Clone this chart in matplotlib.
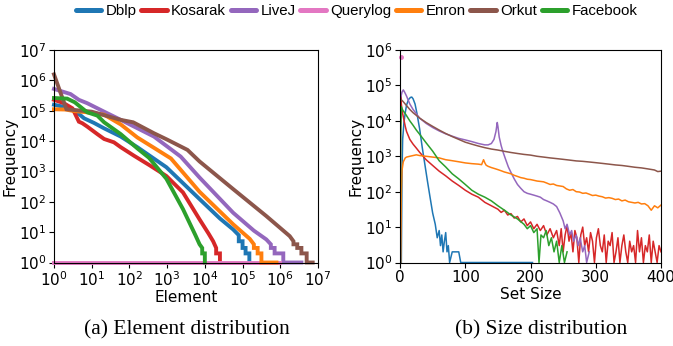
import numpy as np
import matplotlib
matplotlib.use("Agg")
import matplotlib.pyplot as plt
from matplotlib.ticker import LogLocator, NullLocator, FixedLocator

names = ["Dblp", "Kosarak", "LiveJ", "Querylog", "Enron", "Orkut", "Facebook"]
colors = ["tab:blue", "tab:red", "tab:purple", "tab:pink", "tab:orange", "tab:brown", "tab:green"]

# (a) element distribution, log10(element rank) vs log10(frequency)
elem_lx = {
    "Dblp": [0, 0.26, 0.53, 0.8, 1.06, 1.33, 1.77, 2.21, 2.98, 3.86, 4.4, 4.75, 4.9, 4.9, 5.0, 5.0, 5.08, 5.08, 5.18, 5.18],
    "Kosarak": [0, 0.26, 0.49, 0.66, 0.75, 0.88, 1.15, 1.33, 1.59, 1.77, 2.12, 2.54, 2.98, 3.42, 3.86, 4.1, 4.22, 4.3, 4.3, 4.4, 4.4],
    "LiveJ": [0, 0.44, 0.66, 0.88, 1.33, 1.77, 2.65, 3.36, 3.86, 4.75, 5.3, 5.63, 5.75, 5.75, 5.85, 5.85, 5.95, 5.95, 6.08, 6.08, 6.56],
    "Querylog": [0, 6.0],
    "Enron": [0, 0.31, 0.53, 0.88, 1.33, 1.77, 2.21, 2.65, 3.1, 3.86, 4.75, 5.19, 5.3, 5.3, 5.4, 5.4, 5.5, 5.5, 5.9],
    "Orkut": [0, 0.33, 1.0, 1.77, 2.1, 2.65, 3.0, 3.54, 3.86, 4.75, 5.63, 6.25, 6.35, 6.35, 6.45, 6.45, 6.56, 6.56, 6.7, 6.7, 6.86],
    "Facebook": [0, 0.35, 0.55, 0.88, 1.15, 1.33, 1.77, 2.21, 2.52, 2.98, 3.42, 3.75, 3.86, 3.93, 3.93, 4.0, 4.0],
}
elem_ly = {
    "Dblp": [5.2, 5.13, 5.03, 4.75, 4.6, 4.42, 4.15, 3.8, 3.14, 2.09, 1.45, 1.09, 0.9, 0.7, 0.7, 0.48, 0.48, 0.3, 0.3, 0],
    "Kosarak": [5.36, 5.25, 5.08, 4.64, 4.59, 4.48, 4.23, 4.07, 3.96, 3.8, 3.52, 3.2, 2.85, 2.31, 1.42, 0.95, 0.7, 0.48, 0.3, 0.3, 0],
    "LiveJ": [5.72, 5.55, 5.36, 5.25, 4.97, 4.7, 4.15, 3.49, 2.8, 1.64, 1.05, 0.76, 0.6, 0.48, 0.48, 0.3, 0.3, 0.3, 0.3, 0, 0],
    "Querylog": [0, 0],
    "Enron": [5.05, 5.04, 4.99, 4.95, 4.87, 4.55, 4.12, 3.78, 3.43, 2.33, 1.26, 0.78, 0.6, 0.48, 0.48, 0.3, 0.3, 0, 0],
    "Orkut": [6.2, 5.05, 4.97, 4.7, 4.62, 4.26, 4.05, 3.71, 3.33, 2.42, 1.53, 0.87, 0.7, 0.6, 0.6, 0.48, 0.48, 0.3, 0.3, 0, 0],
    "Facebook": [5.42, 5.4, 5.28, 4.95, 4.84, 4.62, 4.23, 3.76, 3.45, 2.76, 1.76, 0.9, 0.6, 0.48, 0.3, 0.3, 0],
}

# (b) set size distribution
size_x = {
    "Dblp": [2, 3, 4, 6, 8, 10, 13, 16, 18, 20, 23, 26, 30, 34, 38, 42, 46, 50, 54, 57, 60, 62, 64, 66, 68, 70, 72, 74, 76, 80, 85, 90, 93, 96, 203],
    "Kosarak": [0, 1, 2, 3, 5, 8, 10, 15, 20, 25, 30, 40, 50, 60, 70, 80, 90, 100, 110, 120, 130, 140]
               + list(range(150, 241, 5)) + list(range(244, 401, 3)),
    "LiveJ": [1, 3, 5, 7, 10, 15, 20, 30, 40, 50, 60, 70, 80, 90, 100, 110, 120, 130, 135, 140, 144, 147, 149, 150, 152, 155, 158, 162, 166, 170, 175, 180, 185, 190, 195, 200, 205, 210, 215, 220, 225, 230, 235, 240, 245, 250, 253, 256, 260, 263, 266, 270, 273, 276, 280, 283, 286, 290],
    "Querylog": [1],
    "Enron": [1, 2, 3, 5, 8, 10, 15, 20, 25, 30, 40, 50, 60, 70, 80, 90, 100, 110, 120, 125, 128, 130, 132, 135, 140, 145]
             + list(range(150, 401, 5)),
    "Orkut": [1, 3, 6, 10, 15, 20, 30, 40, 50, 60, 70, 80, 90, 100, 110, 120, 130, 140, 150, 160, 170, 180, 190, 200, 210, 220, 230, 240, 250, 260, 270, 280, 290, 300, 310, 320, 330, 340, 350, 360, 370, 380, 390, 395, 400],
    "Facebook": [0, 1, 2, 3, 5, 8, 10, 15, 20, 25, 30, 40, 50, 60, 70, 80, 90, 100, 110, 120, 130, 140, 150, 160, 170, 180, 190, 195, 200, 205, 210, 213, 216, 220, 224, 228, 232, 236, 240, 244, 248, 252, 256],
}
size_y = {
    "Dblp": [1, 300, 3000, 9000, 17000, 28000, 40000, 46000, 47000, 42000, 30000, 16000, 6000, 1800, 600, 200, 70, 25, 12, 5, 8, 3, 6, 2, 4, 7, 2, 3, 1, 2, 2, 2, 1, 1, 1],
    "Kosarak": [1, 50000, 30000, 20000, 13000, 7000, 5000, 3000, 2200, 1700, 1300, 800, 550, 380, 280, 200, 150, 110, 85, 70, 50, 40,
                32, 26, 30, 22, 24, 18, 20, 14, 17, 11, 14, 9, 12, 8, 11, 6, 9, 5, 8,
                3, 9, 2, 6, 11, 4, 7, 2, 8, 5, 1, 6, 10, 3, 5, 2, 7, 4, 1, 5, 9, 3, 2, 6, 1, 4, 3, 7, 1, 2,
                5, 1, 3, 6, 2, 1, 4, 2, 3, 1, 8, 2, 5, 1, 3, 2, 6, 1, 4, 2, 1, 3, 2],
    "LiveJ": [45000, 65000, 75000, 65000, 50000, 30000, 21000, 12000, 8500, 6500, 5200, 4300, 3700, 3200, 2900, 2600, 2300, 2100, 2100, 2300, 3000, 5000, 9000, 7000, 3500, 2000, 1300, 800, 500, 350, 230, 160, 125, 100, 90, 85, 80, 75, 70, 60, 55, 50, 45, 38, 25, 15, 9, 12, 6, 8, 4, 6, 3, 5, 2, 3, 1, 2],
    "Querylog": [650000],
    "Enron": [1, 100, 400, 700, 900, 950, 1000, 1050, 1100, 1050, 1000, 950, 900, 800, 750, 700, 650, 620, 600, 580, 800, 650, 560, 520, 480, 450,
              420, 390, 360, 340, 320, 290, 270, 250, 240, 225, 220, 210, 200, 195, 190, 175, 160, 165, 150, 145, 140, 120, 110, 115, 100, 98,
              90, 92, 85, 78, 80, 75, 72, 66, 68, 65, 60, 62, 55, 58, 52, 50, 48, 50, 45, 46, 40, 30, 40, 35, 42],
    "Orkut": [40000, 38000, 33000, 27000, 21000, 17000, 12000, 9000, 7000, 5500, 4400, 3600, 3000, 2500, 2200, 1950, 1750, 1600, 1500, 1380, 1280, 1200, 1130, 1080, 1000, 950, 900, 860, 820, 780, 740, 720, 690, 660, 630, 600, 570, 550, 520, 490, 470, 440, 410, 370, 380],
    "Facebook": [1, 5000, 25000, 22000, 19000, 16000, 14000, 10000, 7500, 5500, 4200, 2400, 1400, 750, 500, 320, 230, 160, 110, 85, 70, 55, 40, 30, 22, 17, 12, 9, 11, 7, 9, 1, 6, 5, 8, 3, 5, 2, 4, 1, 3, 1, 2],
}

fig = plt.figure(figsize=(6.73, 3.46), dpi=100)
ax1 = fig.add_axes([0.0802, 0.2413, 0.3923, 0.614])
ax2 = fig.add_axes([0.5944, 0.2413, 0.3878, 0.614])

tick_fs = 11
for name, c in zip(names, colors):
    x = 10.0 ** np.array(elem_lx[name])
    y = 10.0 ** np.array(elem_ly[name])
    ax1.plot(x, y, color=c, lw=2.8, label=name, clip_on=False,
             solid_joinstyle="miter")
ax1.set_xscale("log")
ax1.set_yscale("log")
ax1.set_xlim(1, 1e7)
ax1.set_ylim(1, 1e7)
ax1.xaxis.set_major_locator(LogLocator(base=10, numticks=20))
ax1.yaxis.set_major_locator(LogLocator(base=10, numticks=20))
ax1.xaxis.set_minor_locator(NullLocator())
ax1.yaxis.set_minor_locator(NullLocator())
ax1.set_xlabel("Element", fontsize=11, labelpad=1)
ax1.set_ylabel("Frequency", fontsize=11, labelpad=1)

for name, c in zip(names, colors):
    if name == "Querylog":
        ax2.plot(size_x[name], size_y[name], "o", color=c, ms=2.5, clip_on=False)
    else:
        ax2.plot(size_x[name], size_y[name], color=c, lw=1.1)
ax2.set_yscale("log")
ax2.set_xlim(0, 400)
ax2.set_ylim(1, 1e6)
ax2.xaxis.set_major_locator(FixedLocator([0, 100, 200, 300, 400]))
ax2.yaxis.set_major_locator(LogLocator(base=10, numticks=20))
ax2.yaxis.set_minor_locator(NullLocator())
ax2.set_xlabel("Set Size", fontsize=11, labelpad=1)
ax2.set_ylabel("Frequency", fontsize=11, labelpad=1)

for ax in (ax1, ax2):
    ax.tick_params(labelsize=tick_fs, pad=2)

handles, labels = ax1.get_legend_handles_labels()
leg = fig.legend(handles, labels, loc="center", bbox_to_anchor=(0.53, 0.967), ncol=7,
                 frameon=False, handlelength=1.7, handletextpad=0.3, columnspacing=0.3,
                 prop={"family": ["Liberation Sans", "DejaVu Sans"], "size": 10.8})
for h in leg.legend_handles:
    h.set_linewidth(3.6)
    h.set_solid_capstyle("round")

cap = {"family": ["Liberation Serif", "DejaVu Serif"], "size": 15.5}
fig.text(187 / 673, 1 - 330 / 346, "(a) Element distribution", ha="center", va="center", fontdict=cap)
fig.text(541 / 673, 1 - 330 / 346, "(b) Size distribution", ha="center", va="center", fontdict=cap)

fig.savefig("out.png", dpi=100)
